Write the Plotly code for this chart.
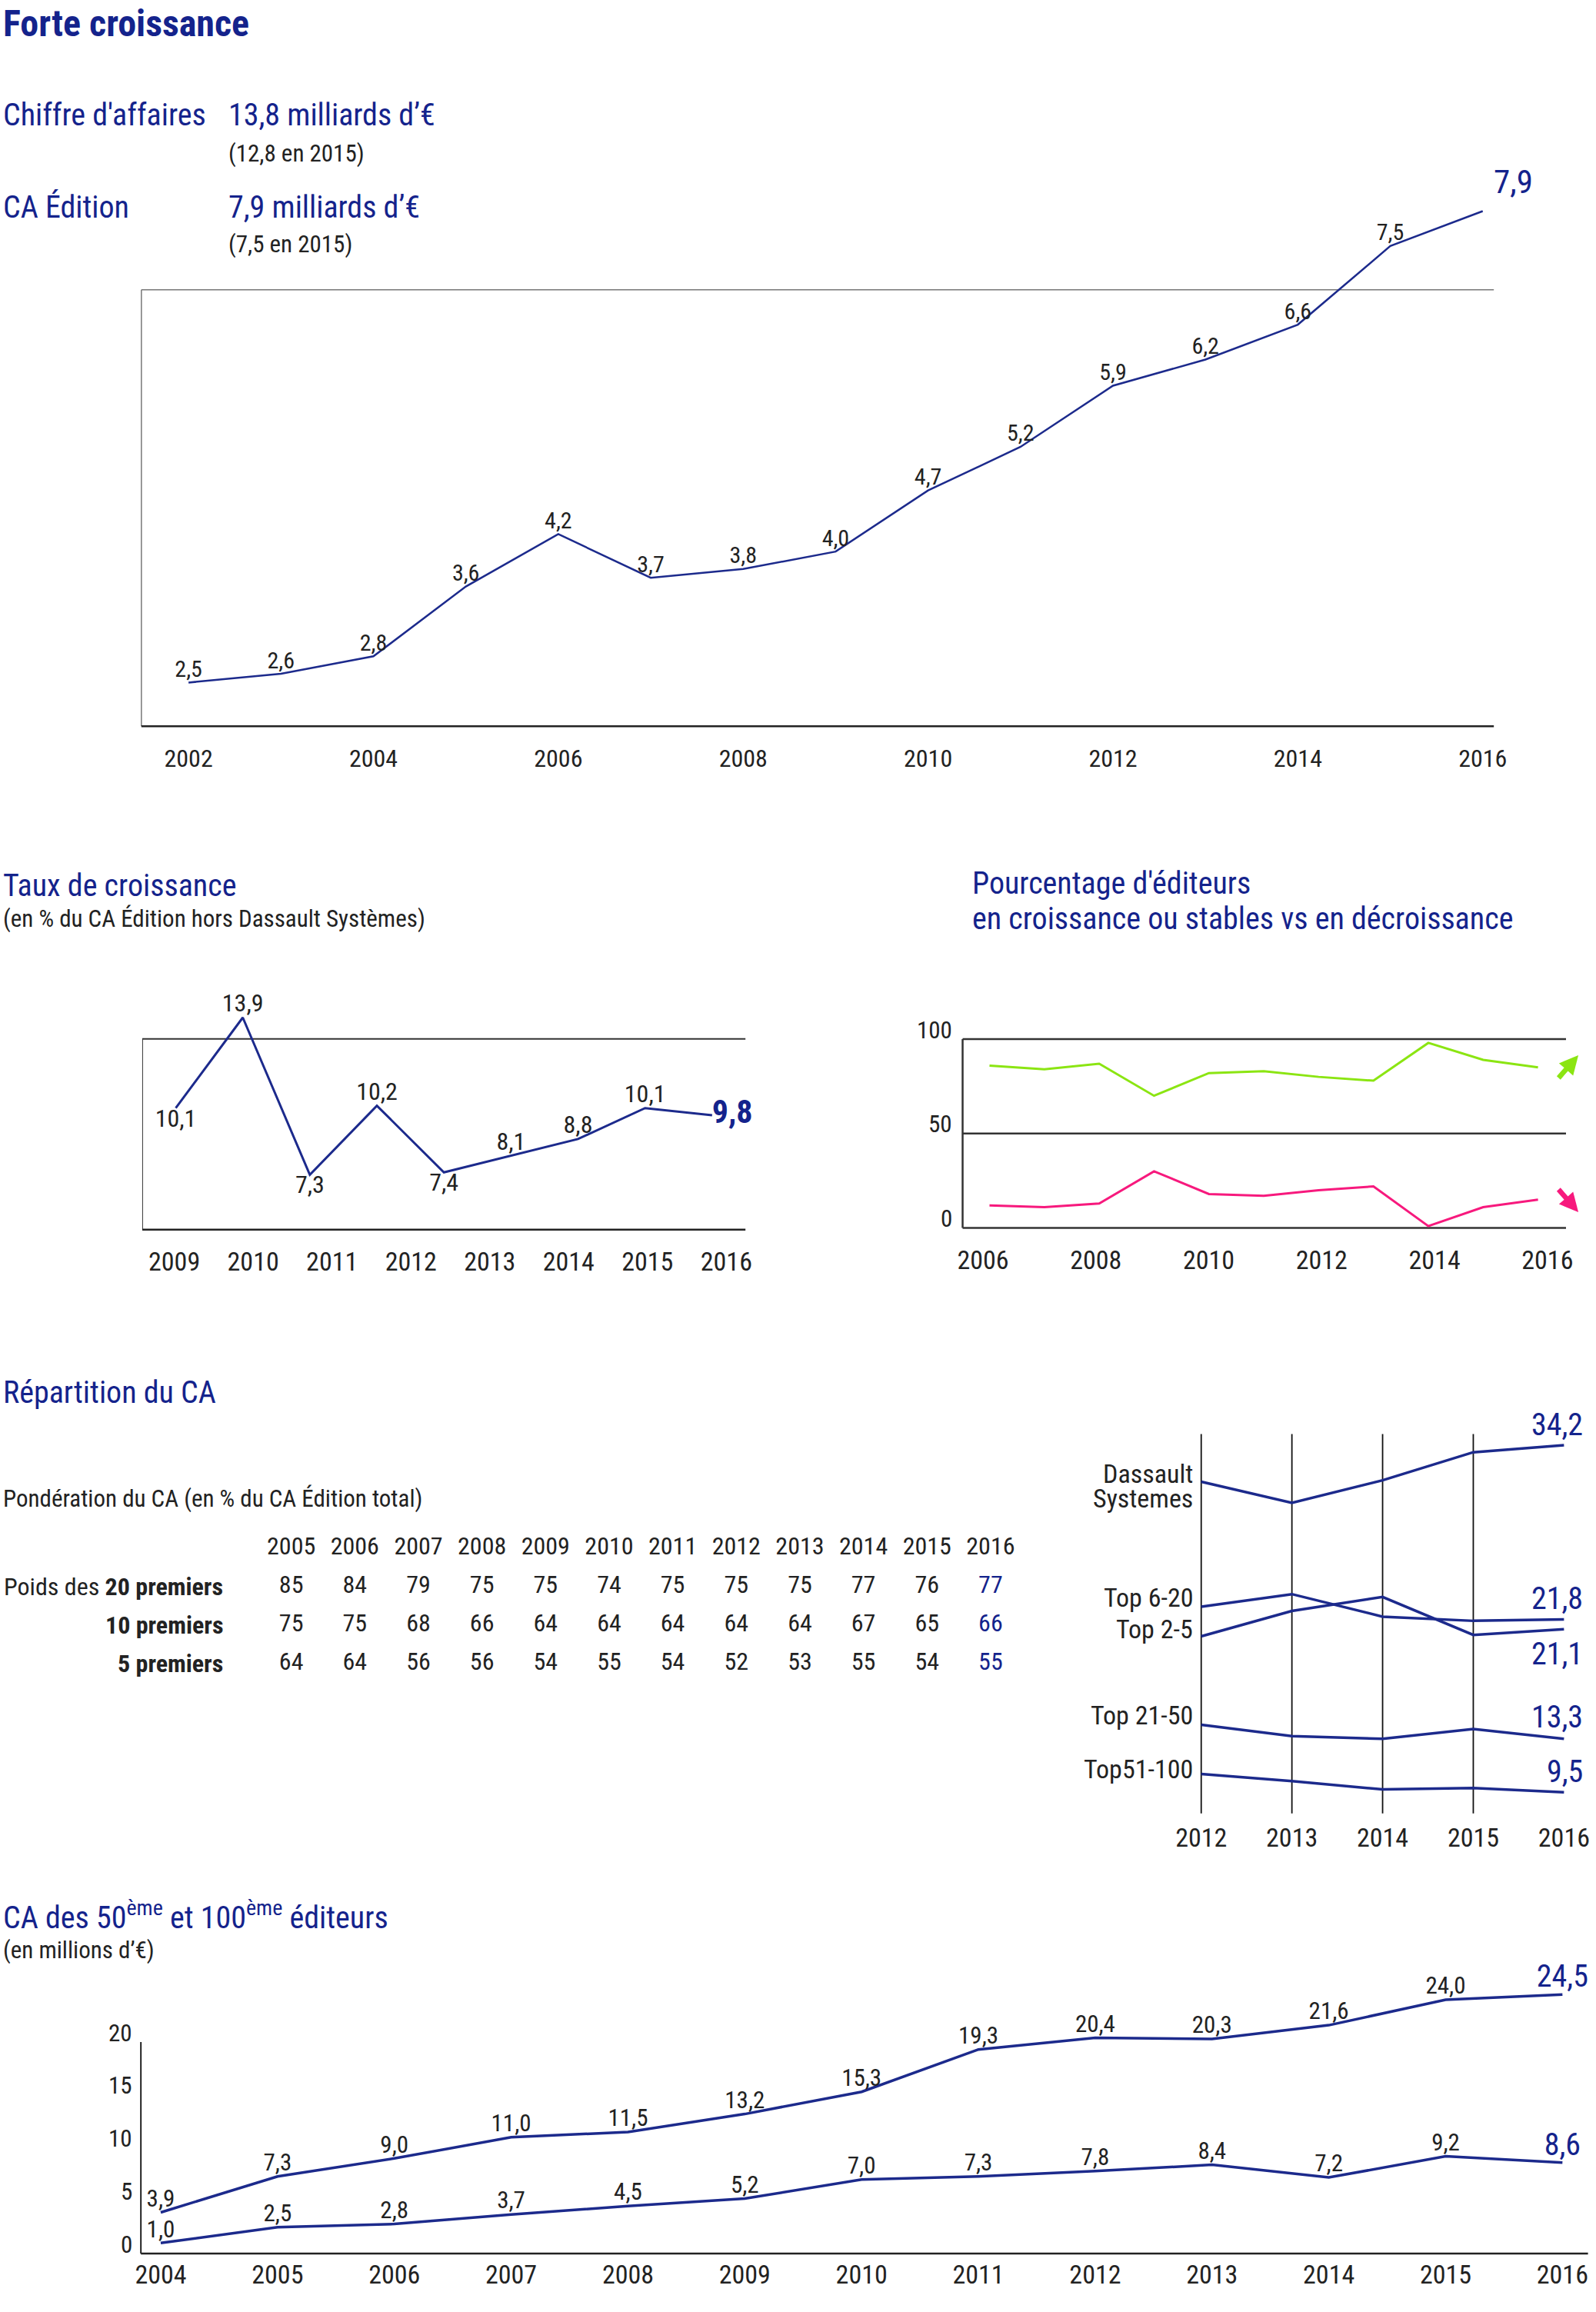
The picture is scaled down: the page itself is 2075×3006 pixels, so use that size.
import plotly.graph_objects as go

W, H = 2075, 3006
FONT = "Roboto Condensed, Liberation Sans Narrow, DejaVu Sans Condensed, Roboto, sans-serif"
BLUE = "#14238c"
NAVY = "#1c2a8c"
INK = "#222222"
GREEN = "#8be512"
PINK = "#f7197d"

# ---------------- data ----------------
ca_years = list(range(2002, 2017))
ca_values = [2.5, 2.6, 2.8, 3.6, 4.2, 3.7, 3.8, 4.0, 4.7, 5.2, 5.9, 6.2, 6.6, 7.5, 7.9]

growth_labels = [2009, 2010, 2011, 2012, 2013, 2014, 2015, 2016]
growth_values = [10.1, 13.9, 7.3, 10.2, 7.4, 8.1, 8.8, 10.1, 9.8]

pct_years = list(range(2006, 2017))
pct_up = [86, 84, 87, 70, 82, 83, 80, 78, 98, 89, 85]
pct_down = [12, 11, 13, 30, 18, 17, 20, 22, 1, 11, 15]
pct_ticks = [0, 50, 100]

table_years = list(range(2005, 2017))
top20 = [85, 84, 79, 75, 75, 74, 75, 75, 75, 77, 76, 77]
top10 = [75, 75, 68, 66, 64, 64, 64, 64, 64, 67, 65, 66]
top5 = [64, 64, 56, 56, 54, 55, 54, 52, 53, 55, 54, 55]
row_labels = ["Poids des <b>20 premiers</b>", "<b>10 premiers</b>", "<b>5 premiers</b>"]

slope_years = [2012, 2013, 2014, 2015, 2016]
slope_names = ["Dassault Systemes", "Top 6-20", "Top 2-5", "Top 21-50", "Top51-100"]
dassault = [31.6, 30.1, 31.7, 33.7, 34.2]
top6_20 = [22.7, 23.6, 22.0, 21.7, 21.8]
top2_5 = [20.6, 22.4, 23.4, 20.7, 21.1]
top21_50 = [14.3, 13.5, 13.3, 14.0, 13.3]
top51_100 = [10.8, 10.3, 9.7, 9.8, 9.5]

rank_years = list(range(2004, 2017))
ca_50 = [3.9, 7.3, 9.0, 11.0, 11.5, 13.2, 15.3, 19.3, 20.4, 20.3, 21.6, 24.0, 24.5]
ca_100 = [1.0, 2.5, 2.8, 3.7, 4.5, 5.2, 7.0, 7.3, 7.8, 8.4, 7.2, 9.2, 8.6]
rank_ticks = [0, 5, 10, 15, 20]


# ---------------- helpers ----------------
def fr(v):
    return f"{v:.1f}".replace(".", ",")


def px_x(p):
    return p / W


def px_y(p):
    return 1 - p / H


def xdom(r0, r1, v0, p0, k):
    return [(p0 + (r0 - v0) * k) / W, (p0 + (r1 - v0) * k) / W]


def ydom(r0, r1, v0, p0, k):
    return [px_y(p0 - (r0 - v0) * k), px_y(p0 - (r1 - v0) * k)]


def inv_range(dom, v0, p0, k):
    a = dom[0] * W
    b = dom[1] * W
    return [v0 + (a - p0) / k, v0 + (b - p0) / k]


hidden = dict(visible=False, showgrid=False, zeroline=False, fixedrange=True)


def label_x(dom, rng, tickvals, center, size):
    # tick labels centred around pixel row `center`
    return dict(domain=dom, range=rng, anchor="free", position=px_y(center - 22), tickvals=tickvals,
                ticktext=[str(t) for t in tickvals], ticks="", showline=False, showgrid=False,
                zeroline=False, tickfont=dict(family=FONT, size=size, color=INK), fixedrange=True)


fig = go.Figure()
ann = []
shapes = []


def text(x, y, s, size, color=INK, xanchor="left", yanchor="middle"):
    ann.append(dict(x=px_x(x), y=px_y(y), xref="paper", yref="paper", text=s, showarrow=False,
                    xanchor=xanchor, yanchor=yanchor,
                    font=dict(family=FONT, size=size, color=color)))


def seg(xref, yref, x0, y0, x1, y1, color="#333333", width=2):
    shapes.append(dict(type="line", xref=xref, yref=yref, x0=x0, y0=y0, x1=x1, y1=y1,
                       line=dict(color=color, width=width), layer="below"))


# ---------------- header block ----------------
text(2, 0, "<b>Forte croissance</b>", 48, BLUE, yanchor="top")
text(2, 150, "Chiffre d'affaires", 40, BLUE)
text(296, 150, "13,8 milliards d’€", 40, BLUE)
text(296, 200, "(12,8 en 2015)", 31, INK)
text(2, 269, "CA Édition", 40, BLUE)
text(296, 269, "7,9 milliards d’€", 40, BLUE)
text(296, 317, "(7,5 en 2015)", 31, INK)

# ---------------- chart 1 : CA Edition ----------------
c1x = (2002, 246.3, 120.77)
c1y = (2.5, 887.4, 113.5)
x1_dom = xdom(2001.4, 2016.5, *c1x)
y1_dom = ydom(1.9, 8.2, *c1y)
fig.add_trace(go.Scatter(
    x=ca_years, y=ca_values, mode="lines+text", xaxis="x", yaxis="y",
    line=dict(color=NAVY, width=2.5),
    text=[fr(v) for v in ca_values[:-1]] + [""],
    textposition="top center",
    textfont=dict(family=FONT, size=30, color=INK),
    cliponaxis=False, hoverinfo="skip", showlegend=False))
ann.append(dict(x=ca_years[-1], y=ca_values[-1], xref="x", yref="y", xshift=40, yshift=38,
                text=fr(ca_values[-1]), showarrow=False, xanchor="center", yanchor="middle",
                font=dict(family=FONT, size=43, color=BLUE)))
seg("x", "y", 2001.49, 7, 2016.12, 7, "#777777", 1.5)
seg("x", "y", 2001.49, 2, 2001.49, 7, "#777777", 1.5)
seg("x", "y", 2001.49, 2, 2016.12, 2, "#222222", 2.5)

# ---------------- chart 2 : Taux de croissance ----------------
text(2, 1151, "Taux de croissance", 40, BLUE)
text(2, 1195, "(en % du CA Édition hors Dassault Systèmes)", 31, INK)
c2x = (0, 229.6, 87.59)
c2y = (13.9, 1323.0, 30.97)
x2_dom = xdom(-0.5, 8.5, *c2x)
y2_dom = ydom(4.5, 14.7, *c2y)
n2 = len(growth_values)
fig.add_trace(go.Scatter(
    x=list(range(n2)), y=growth_values, mode="lines+text", xaxis="x2", yaxis="y2",
    line=dict(color=NAVY, width=3),
    text=[fr(v) for v in growth_values[:-1]] + ["<b>" + fr(growth_values[-1]) + "</b>"],
    textposition=["bottom center", "top center", "bottom center", "top center", "bottom center",
                  "top center", "top center", "top center", "middle right"],
    textfont=dict(family=FONT, size=[32] * (n2 - 1) + [42], color=[INK] * (n2 - 1) + [BLUE]),
    cliponaxis=False, hoverinfo="skip", showlegend=False))
seg("x2", "y2", -0.5, 13, 8.5, 13)
seg("x2", "y2", -0.5, 5, -0.5, 13)
seg("x2", "y2", -0.5, 5, 8.5, 5, "#222222", 2.5)
x3_rng = inv_range(x2_dom, 2009, 227.7, 103.03)
fig.add_trace(go.Scatter(x=growth_labels, y=[None] * len(growth_labels), mode="markers",
                         xaxis="x3", yaxis="y2", hoverinfo="skip", showlegend=False))

# ---------------- chart 3 : Pourcentage d'editeurs ----------------
text(1268, 1148, "Pourcentage d'éditeurs", 40, BLUE)
text(1268, 1195, "en croissance ou stables vs en décroissance", 40, BLUE)
c4x = (2006, 1292.7, 71.66)
c4y = (0, 1596.6, 2.456)
x4_dom = xdom(2005.4, 2016.6, *c4x)
y4_dom = ydom(-3, 103, *c4y)
fig.add_trace(go.Scatter(x=pct_years, y=pct_up, mode="lines", xaxis="x4", yaxis="y4",
                         line=dict(color=GREEN, width=3), hoverinfo="skip", showlegend=False))
fig.add_trace(go.Scatter(x=pct_years, y=pct_down, mode="lines", xaxis="x4", yaxis="y4",
                         line=dict(color=PINK, width=3), hoverinfo="skip", showlegend=False))
for lv in pct_ticks:
    seg("x4", "y4", 2005.51, lv, 2016.51, lv, "#333333", 2.5)
    ann.append(dict(x=px_x(1246), y=lv, xref="paper", yref="y4", yshift=12, text=str(lv),
                    showarrow=False, xanchor="right", yanchor="middle",
                    font=dict(family=FONT, size=31, color=INK)))
seg("x4", "y4", 2005.51, 0, 2005.51, 100, "#333333", 2.5)
x5_rng = inv_range(x4_dom, 2006, 1284.2, 73.74)
fig.add_trace(go.Scatter(x=pct_years, y=[None] * len(pct_years), mode="markers",
                         xaxis="x5", yaxis="y4", hoverinfo="skip", showlegend=False))
# trend arrows
ann.append(dict(x=px_x(2062), y=px_y(1372), xref="paper", yref="paper", ax=-27, ay=31,
                showarrow=True, arrowhead=2, arrowsize=0.75, arrowwidth=6.5, arrowcolor=GREEN,
                text=""))
ann.append(dict(x=px_x(2062), y=px_y(1576), xref="paper", yref="paper", ax=-27, ay=-31,
                showarrow=True, arrowhead=2, arrowsize=0.75, arrowwidth=6.5, arrowcolor=PINK,
                text=""))

# ---------------- chart 4 : table ----------------
text(2, 1810, "Répartition du CA", 40, BLUE)
text(2, 1948, "Pondération du CA (en % du CA Édition total)", 31, INK)
c6x = (2005, 380.5, 83.06)
c6y = (0, 2012.7, 50.0)
x6_dom = xdom(2004.5, 2016.5, *c6x)
y6_dom = ydom(-3.5, 0.5, *c6y)
ncol = len(table_years)
fig.add_trace(go.Scatter(x=table_years, y=[0] * ncol, mode="text", xaxis="x6", yaxis="y6",
                         text=[str(y) for y in table_years],
                         textfont=dict(family=FONT, size=32, color=INK),
                         hoverinfo="skip", showlegend=False))
for r, row in enumerate([top20, top10, top5], start=1):
    fig.add_trace(go.Scatter(x=table_years, y=[-r] * ncol, mode="text", xaxis="x6", yaxis="y6",
                             text=[str(v) for v in row],
                             textfont=dict(family=FONT, size=32,
                                           color=[INK] * (ncol - 1) + [BLUE]),
                             hoverinfo="skip", showlegend=False))
    ann.append(dict(x=px_x(293), y=-r, xref="paper", yref="y6", text=row_labels[r - 1],
                    showarrow=False, xanchor="right", yanchor="middle",
                    font=dict(family=FONT, size=32, color=INK)))

# ---------------- chart 5 : slope chart ----------------
c7x = (2012, 1569.3, 118.48)
c7y = (34.2, 1879.0, 18.27)
x7_dom = xdom(2011.5, 2016.2, *c7x)
y7_dom = ydom(7.5, 36, *c7y)
for yr in slope_years[:-1]:
    seg("x7", "y7", yr, 8, yr, 35, "#111111", 1.8)
slope_series = [dassault, top6_20, top2_5, top21_50, top51_100]
for s in slope_series:
    fig.add_trace(go.Scatter(x=slope_years, y=s, mode="lines", xaxis="x7", yaxis="y7",
                             line=dict(color=NAVY, width=3.5), hoverinfo="skip", showlegend=False))
left_pos = [1916, 2077, 2118, 2230, 2300]
text(1561, 1916, "Dassault", 34, INK, "right")
text(1561, 1948, "Systemes", 34, INK, "right")
for name, yp in zip(slope_names[1:], left_pos[1:]):
    text(1561, yp, name, 34, INK, "right")
shifts = [27, 27, -32, 28, 27]
for s, sh in zip(slope_series, shifts):
    ann.append(dict(x=px_x(2070), y=s[-1], xref="paper", yref="y7", yshift=sh, text=fr(s[-1]),
                    showarrow=False, xanchor="right", yanchor="middle",
                    font=dict(family=FONT, size=40, color=BLUE)))

# ---------------- chart 6 : CA des 50e et 100e ----------------
text(2, 2490, "CA des 50<sup>ème</sup> et 100<sup>ème</sup> éditeurs", 40, BLUE)
text(2, 2535, "(en millions d’€)", 31, INK)
c8x = (2004, 210.0, 152.6)
c8y = (0, 2930.1, 13.75)
x8_dom = xdom(2003.7, 2016.22, *c8x)
y8_dom = ydom(-0.4, 26.5, *c8y)
n8 = len(rank_years)
for s in (ca_50, ca_100):
    fig.add_trace(go.Scatter(
        x=rank_years, y=s, mode="lines+text", xaxis="x8", yaxis="y8",
        line=dict(color=NAVY, width=3.5),
        text=[fr(v) for v in s], textposition="top center",
        textfont=dict(family=FONT, size=[31] * (n8 - 1) + [40], color=[INK] * (n8 - 1) + [BLUE]),
        cliponaxis=False, hoverinfo="skip", showlegend=False))
seg("x8", "y8", 2003.83, 0, 2003.83, 20, "#222222", 2)
seg("x8", "y8", 2003.83, 0, 2016.22, 0, "#222222", 2.5)
for t in rank_ticks:
    ann.append(dict(x=px_x(175), y=t, xref="paper", yref="y8", yshift=12, text=str(t),
                    showarrow=False, xanchor="right", yanchor="middle",
                    font=dict(family=FONT, size=31, color=INK)))

# ---------------- layout ----------------
fig.update_layout(
    width=W, height=H, margin=dict(l=0, r=0, t=0, b=0),
    paper_bgcolor="white", plot_bgcolor="rgba(0,0,0,0)", showlegend=False,
    font=dict(family=FONT, color=INK),
    annotations=ann, shapes=shapes,
    xaxis=label_x(x1_dom, [2001.4, 2016.5], list(range(2002, 2017, 2)), 986, 32),
    yaxis=dict(domain=y1_dom, range=[1.9, 8.2], **hidden),
    xaxis2=dict(domain=x2_dom, range=[-0.5, 8.5], anchor="y2", **hidden),
    yaxis2=dict(domain=y2_dom, range=[4.5, 14.7], anchor="x2", **hidden),
    xaxis3=label_x(x2_dom, x3_rng, growth_labels, 1639, 34),
    xaxis4=dict(domain=x4_dom, range=[2005.4, 2016.6], anchor="y4", **hidden),
    yaxis4=dict(domain=y4_dom, range=[-3, 103], anchor="x4", **hidden),
    xaxis5=label_x(x4_dom, x5_rng, list(range(2006, 2017, 2)), 1637, 34),
    xaxis6=dict(domain=x6_dom, range=[2004.5, 2016.5], anchor="y6", **hidden),
    yaxis6=dict(domain=y6_dom, range=[-3.5, 0.5], anchor="x6", **hidden),
    xaxis7=label_x(x7_dom, [2011.5, 2016.2], slope_years, 2388, 34),
    yaxis7=dict(domain=y7_dom, range=[7.5, 36], anchor="x7", **hidden),
    xaxis8=label_x(x8_dom, [2003.7, 2016.22], rank_years, 2956, 34),
    yaxis8=dict(domain=y8_dom, range=[-0.4, 26.5], anchor="x8", **hidden),
)

fig.write_html("out.html", config={"displayModeBar": False},
               post_script="document.body.style.margin='0';")
